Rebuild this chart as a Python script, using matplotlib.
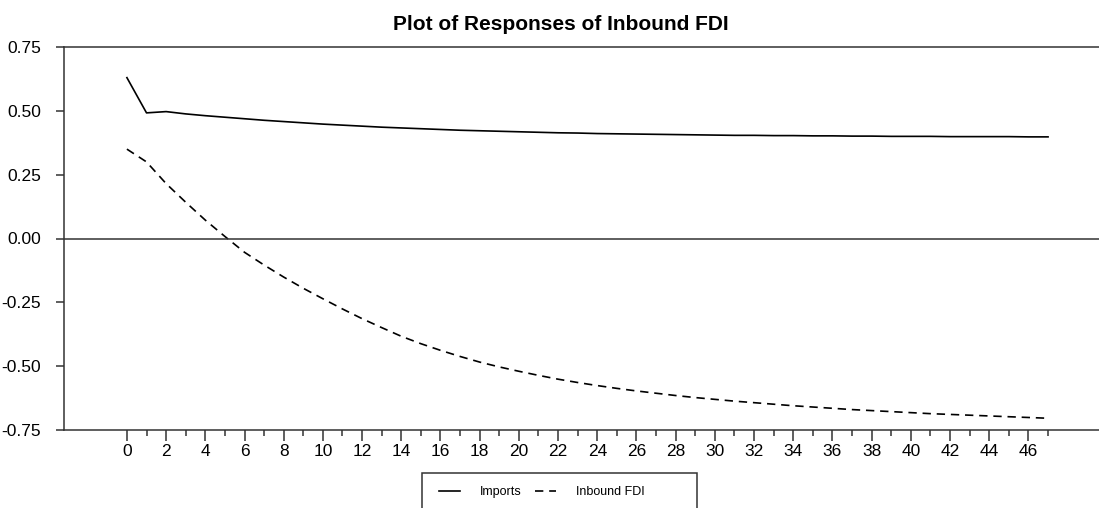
import matplotlib
matplotlib.use('Agg')
import matplotlib.pyplot as plt
from matplotlib.patches import Rectangle

# ---------- data ----------
periods = list(range(48))
imports = [0.630, 0.492, 0.497, 0.488, 0.481, 0.475, 0.469, 0.463, 0.458, 0.453,
           0.448, 0.444, 0.440, 0.436, 0.433, 0.430, 0.427, 0.424, 0.422, 0.420,
           0.418, 0.416, 0.414, 0.413, 0.411, 0.410, 0.409, 0.408, 0.407, 0.406,
           0.405, 0.404, 0.404, 0.403, 0.403, 0.402, 0.402, 0.401, 0.401, 0.400,
           0.400, 0.400, 0.399, 0.399, 0.399, 0.399, 0.398, 0.398]
inbound_fdi = [0.350, 0.300, 0.215, 0.142, 0.072, 0.008, -0.054, -0.104, -0.151, -0.195,
               -0.236, -0.276, -0.314, -0.349, -0.383, -0.412, -0.438, -0.462, -0.484, -0.503,
               -0.520, -0.536, -0.551, -0.564, -0.576, -0.587, -0.597, -0.606, -0.615, -0.623,
               -0.630, -0.637, -0.643, -0.649, -0.655, -0.660, -0.665, -0.670, -0.674, -0.678,
               -0.682, -0.686, -0.689, -0.692, -0.695, -0.698, -0.701, -0.704]
y_ticks = [0.75, 0.50, 0.25, 0.00, -0.25, -0.50, -0.75]
x_major = list(range(0, 47, 2))
x_minor = list(range(1, 48, 2))

plt.rcParams['font.family'] = ['Liberation Sans', 'DejaVu Sans']

W, H = 1099, 508
fig = plt.figure(figsize=(W / 100, H / 100), dpi=100)
ax = fig.add_axes([64 / W, 1 - 430 / H, 1 - 64 / W, (430 - 47) / H])

ax.plot(periods, imports, color='black', lw=1.2, label='Imports')
ax.plot(periods, inbound_fdi, color='black', lw=1.2, linestyle=(0, (5, 3.5)),
        label='Inbound FDI')
ax.axhline(0, color='#333333', lw=1.1)

ax.set_xlim(-3.21, 49.6)
ax.set_ylim(-0.75, 0.75)

for side in ['left', 'top', 'bottom']:
    ax.spines[side].set_color('#333333')
    ax.spines[side].set_linewidth(1.1)
ax.spines['right'].set_visible(False)

ax.set_yticks(y_ticks)
ax.set_yticklabels([f'{v:.2f}' for v in y_ticks])
ax.tick_params(axis='y', direction='out', length=5.5, width=1.1, color='#333333',
               pad=11, labelsize=12.5)

ax.set_xticks(x_major)
ax.set_xticks(x_minor, minor=True)
ax.set_xticklabels([str(v) for v in x_major])
ax.tick_params(axis='x', which='major', direction='out', length=8, width=1.1,
               color='#333333', pad=2, labelsize=12.5)
ax.tick_params(axis='x', which='minor', direction='out', length=4.5, width=1.1,
               color='#333333')

fig.text(561 / W, 1 - 25 / H, 'Plot of Responses of Inbound FDI', ha='center',
         va='center', fontsize=15, fontweight='bold')

# legend box at the bottom, running past the lower edge like the original
fig.legend(loc='center left', bbox_to_anchor=(439 / W, 1 - 492 / H), ncol=2,
           frameon=False, fontsize=9, handlelength=1.7, handletextpad=1.6,
           columnspacing=1.0, borderpad=0, borderaxespad=0)
fig.patches.append(Rectangle((422 / W, -0.05), (697 - 422) / W, 0.05 + 35 / H,
                             transform=fig.transFigure, fill=False,
                             edgecolor='#333333', lw=1.1))

fig.savefig('out.png', dpi=100)
